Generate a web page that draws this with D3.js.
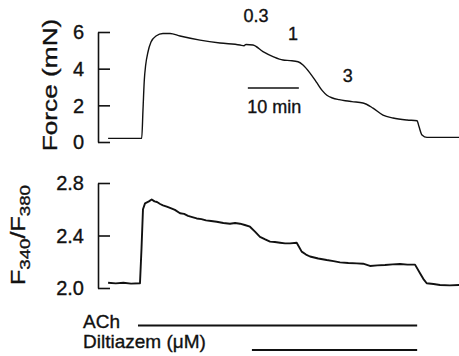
<!DOCTYPE html>
<html><head><meta charset="utf-8">
<script src="https://cdn.jsdelivr.net/npm/d3@7"></script>
<style>html,body{margin:0;padding:0;background:#fff}svg{display:block}text{font-family:"Liberation Sans",Arial,sans-serif;fill:#111;stroke:#111;stroke-width:0.35px}</style>
</head><body>
<script>
// time in minutes
const forceTime = [1, 7.59, 7.84, 8.1, 8.37, 8.82, 9.41, 10.39, 11.76, 13.14, 15.1, 19.02, 22.94, 26.86, 27.65, 28.04, 29.41, 31.37, 33.33, 35.29, 36.67, 38.24, 39.22, 40.59, 41.96, 43.0, 43.9, 45.0, 46.3, 47.5, 48.8, 50.98, 52.94, 54.9, 56.86, 59.61, 61.57, 61.96, 62.55, 63.53, 70];
const forceVal  = [0.2, 0.2, 1.75, 3.38, 4.2, 4.91, 5.45, 5.78, 5.92, 5.92, 5.78, 5.56, 5.40, 5.29, 5.25, 5.32, 5.29, 4.93, 4.66, 4.47, 4.44, 4.38, 4.2, 3.76, 3.22, 2.8, 2.55, 2.4, 2.31, 2.25, 2.2, 2.13, 1.85, 1.47, 1.31, 1.2, 1.16, 0.84, 0.38, 0.25, 0.25];

const ratioTime = [1, 2.5, 4, 5.5, 7.25, 7.55, 7.84, 8.24, 9.0, 9.55, 10.1, 10.59, 11.2, 11.76, 12.5, 13.14, 14.1, 15.1, 15.9, 16.67, 17.5, 18.37, 19.3, 20.2, 21.2, 22.29, 23.6, 24.9, 25.9, 26.86, 27.8, 28.82, 29.8, 30.78, 31.8, 32.75, 33.7, 34.71, 35.7, 36.67, 37.98, 38.96, 39.8, 40.59, 42.2, 43.86, 45.2, 46.47, 48.1, 49.75, 51.0, 52.35, 53.8, 55.29, 56.8, 58.24, 59.7, 61.18, 62.16, 62.8, 63.47, 64.8, 66.08, 68, 70];
const ratioVal  = [2.04, 2.035, 2.04, 2.033, 2.036, 2.3, 2.6, 2.645, 2.66, 2.675, 2.66, 2.655, 2.64, 2.63, 2.62, 2.61, 2.595, 2.57, 2.565, 2.55, 2.54, 2.53, 2.525, 2.515, 2.51, 2.505, 2.495, 2.49, 2.495, 2.49, 2.48, 2.467, 2.43, 2.39, 2.37, 2.353, 2.35, 2.345, 2.34, 2.34, 2.345, 2.277, 2.255, 2.24, 2.225, 2.213, 2.205, 2.195, 2.19, 2.188, 2.185, 2.168, 2.172, 2.175, 2.18, 2.183, 2.178, 2.178, 2.112, 2.07, 2.036, 2.03, 2.023, 2.02, 2.023];

const forceTicks = [0, 2, 4, 6];
const ratioTicks = [2.0, 2.4, 2.8];
const doseLabels = ["0.3", "1", "3"];
const doseTimes = [30, 37.25, 48];
const doseForce = [6.55, 5.55, 3.3];
const achSpan = [6.86, 61.6];
const diltSpan = [29.2, 61.6];
const scaleBarSpan = [28.4, 38.4];

const W = 459, H = 356;
const svg = d3.select("body").append("svg").attr("width", W).attr("height", H);

const x = d3.scaleLinear().domain([0, 70]).range([103, 460]);
const yF = d3.scaleLinear().domain([0, 6]).range([142, 32]);
const yR = d3.scaleLinear().domain([2.0, 2.8]).range([288, 183]);

function drawAxis(scale, ticks, fmt) {
  const g = svg.append("g").attr("transform", "translate(98,0)")
    .call(d3.axisRight(scale).tickValues(ticks).tickSize(12).tickSizeOuter(0).tickFormat(""));
  g.select(".domain").attr("stroke", "#111").attr("stroke-width", 1.6);
  g.selectAll(".tick line").attr("stroke", "#111").attr("stroke-width", 1.6);
  svg.append("g").selectAll("text").data(ticks).join("text")
    .attr("x", 84).attr("y", d => scale(d)).attr("dy", "0.36em")
    .attr("text-anchor", "end").attr("font-size", 20).text(fmt);
}
drawAxis(yF, forceTicks, d3.format("d"));
drawAxis(yR, ratioTicks, d3.format(".1f"));

const lineF = d3.line().x((d, i) => x(forceTime[i])).y(d => yF(d)).curve(d3.curveMonotoneX);
svg.append("path").attr("d", lineF(forceVal)).attr("fill", "none").attr("stroke", "#111").attr("stroke-width", 1.4);

const lineR = d3.line().x((d, i) => x(ratioTime[i])).y(d => yR(d)).curve(d3.curveLinear);
svg.append("path").attr("d", lineR(ratioVal)).attr("fill", "none").attr("stroke", "#111").attr("stroke-width", 1.9).attr("stroke-linejoin", "round");

// y labels
svg.append("text").attr("transform", "translate(57,85) rotate(-90) scale(1.25,1)")
  .attr("text-anchor", "middle").attr("font-size", 21).text("Force (mN)");
const rl = svg.append("text").attr("transform", "translate(25,235) rotate(-90) scale(1.25,1)")
  .attr("text-anchor", "middle").attr("font-size", 20);
rl.append("tspan").text("F");
rl.append("tspan").attr("font-size", 15).attr("dy", 5).text("340");
rl.append("tspan").attr("dy", -5).text("/F");
rl.append("tspan").attr("font-size", 15).attr("dy", 5).text("380");

// dose labels
svg.append("g").selectAll("text").data(doseLabels).join("text")
  .attr("x", (d, i) => x(doseTimes[i])).attr("y", (d, i) => yF(doseForce[i]))
  .attr("text-anchor", "middle").attr("font-size", 18).text(d => d);

// scale bar
svg.append("line").attr("x1", x(scaleBarSpan[0])).attr("x2", x(scaleBarSpan[1]))
  .attr("y1", 88).attr("y2", 88).attr("stroke", "#111").attr("stroke-width", 1.3);
svg.append("text").attr("x", (x(scaleBarSpan[0]) + x(scaleBarSpan[1])) / 2 + 1).attr("y", 113)
  .attr("text-anchor", "middle").attr("font-size", 18).text("10 min");

// drug bars
svg.append("text").attr("x", 83).attr("y", 328).attr("font-size", 19).text("ACh");
svg.append("line").attr("x1", x(achSpan[0])).attr("x2", x(achSpan[1])).attr("y1", 325.5).attr("y2", 325.5)
  .attr("stroke", "#111").attr("stroke-width", 2);
svg.append("text").attr("x", 83).attr("y", 348).attr("font-size", 19).text("Diltiazem (μM)");
svg.append("line").attr("x1", x(diltSpan[0])).attr("x2", x(diltSpan[1])).attr("y1", 350).attr("y2", 350)
  .attr("stroke", "#111").attr("stroke-width", 2);
</script>
</body></html>
